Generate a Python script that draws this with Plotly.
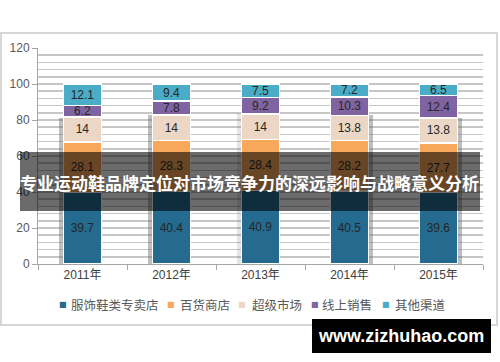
import plotly.graph_objects as go

years = ["2011年", "2012年", "2013年", "2014年", "2015年"]
series_names = ["服饰鞋类专卖店", "百货商店", "超级市场", "线上销售", "其他渠道"]
specialty = [39.7, 40.4, 40.9, 40.5, 39.6]
department = [28.1, 28.3, 28.4, 28.2, 27.7]
supermarket = [14, 14, 14, 13.8, 13.8]
online = [6.2, 7.8, 9.2, 10.3, 12.4]
other = [12.1, 9.4, 7.5, 7.2, 6.5]
y_ticks = [0, 20, 40, 60, 80, 100, 120]
# height of the soft drop shadow behind each column
shadow_height = [81, 83, 84, 83, 81]

title_text = "专业运动鞋品牌定位对市场竞争力的深远影响与战略意义分析"
watermark = "www.zizhuhao.com"

colors = ["#246b8f", "#f8a85a", "#ecd6c6", "#8064a2", "#4aacc6"]
values = [specialty, department, supermarket, online, other]

FONT = "Liberation Sans, Noto Sans CJK SC, sans-serif"

W, H = 500, 362
L, R, T, B = 38, 17, 48, 98
pw, ph = W - L - R, H - T - B


def px(x):
    return (x - L) / pw


def py(y):
    return (H - B - y) / ph


fig = go.Figure()

# shadows (separate overlaid axis so they do not stack)
fig.add_trace(go.Bar(
    x=years, y=shadow_height, xaxis="x2", showlegend=False, hoverinfo="skip",
    width=0.05, offset=[-0.265, -0.265, -0.265, 0.215, 0.215],
    marker=dict(color=["rgba(110,110,110,0.45)", "rgba(110,110,110,0.45)",
                       "rgba(110,110,110,0.18)", "rgba(110,110,110,0.45)",
                       "rgba(110,110,110,0.45)"], line=dict(width=0)),
))

for name, vals, col in zip(series_names, values, colors):
    fig.add_trace(go.Bar(
        x=years, y=vals, name=name, showlegend=False,
        marker=dict(color=col, line=dict(color="white", width=1.5)),
        text=[f"{v:g}" for v in vals],
        textposition="inside", insidetextanchor="middle",
        constraintext="none",
        textfont=dict(size=12, color="#262626", family=FONT),
        hoverinfo="skip",
    ))

# custom compact legend
legend_marker_x = [62.5, 170.5, 242, 314.5, 385.5]
legend_text_x = [69, 178, 250, 320, 393]
legend_y = 304
annotations = []
for name, col, mx, tx in zip(series_names, colors, legend_marker_x, legend_text_x):
    annotations.append(dict(
        text="■", xref="paper", yref="paper", x=px(mx), y=py(legend_y),
        xanchor="center", yanchor="middle", showarrow=False,
        font=dict(family="DejaVu Sans", size=8, color=col)))
    annotations.append(dict(
        text=name, xref="paper", yref="paper", x=px(tx), y=py(legend_y),
        xanchor="left", yanchor="middle", showarrow=False,
        font=dict(family="Noto Sans CJK SC", size=12.5, color="#595959")))

annotations += [
    dict(text=title_text, xref="paper", yref="paper", x=px(249), y=py(182),
         xanchor="center", yanchor="middle", showarrow=False,
         font=dict(family="Noto Sans CJK SC", size=17, color="white", weight="bold")),
    dict(text=watermark, xref="paper", yref="paper", x=px(401), y=py(336),
         xanchor="center", yanchor="middle", showarrow=False,
         font=dict(family="Liberation Sans, sans-serif", size=18, color="white", weight="bold")),
]

fig.update_layout(
    width=W, height=H,
    margin=dict(l=L, r=R, t=T, b=B, autoexpand=False),
    barmode="stack", bargap=0.57,
    paper_bgcolor="white", plot_bgcolor="white",
    font=dict(family=FONT, size=12, color="#595959"),
    showlegend=False,
    uniformtext=dict(minsize=11, mode="show"),
    xaxis=dict(showline=True, linecolor="#a6a6a6", linewidth=1, automargin=False,
               ticks="outside", tickson="boundaries", ticklen=5, tickcolor="#a6a6a6",
               tickfont=dict(size=12, color="#404040"), showgrid=False),
    xaxis2=dict(overlaying="x", matches="x", visible=False),
    yaxis=dict(range=[0, 120], tickvals=y_ticks, showline=True, linecolor="#a6a6a6",
               automargin=False,
               ticks="outside", ticklen=5, tickcolor="#a6a6a6",
               tickfont=dict(size=12, color="#595959"),
               showgrid=True, gridcolor="#c6c6c6", gridwidth=1.5, zeroline=False,
               minor=dict(dtick=4, showgrid=True, gridcolor="#c6c6c6", gridwidth=1.5)),
    shapes=[
        dict(type="rect", xref="paper", yref="paper", layer="below",
             x0=px(1), x1=px(497), y0=py(325), y1=py(33),
             line=dict(color="#d6d6d6", width=2), fillcolor="rgba(0,0,0,0)"),
        dict(type="rect", xref="paper", yref="paper", layer="above",
             x0=px(20), x1=px(480), y0=py(211), y1=py(152),
             line=dict(width=0), fillcolor="rgba(0,0,0,0.58)"),
        dict(type="rect", xref="paper", yref="paper", layer="above",
             x0=px(312), x1=px(491), y0=py(353), y1=py(319),
             line=dict(width=0), fillcolor="black"),
    ],
    annotations=annotations,
)

fig.write_html("out.html", config={"displayModeBar": False, "staticPlot": True},
               post_script="document.body.style.margin='0px';document.body.style.overflow='hidden';")
